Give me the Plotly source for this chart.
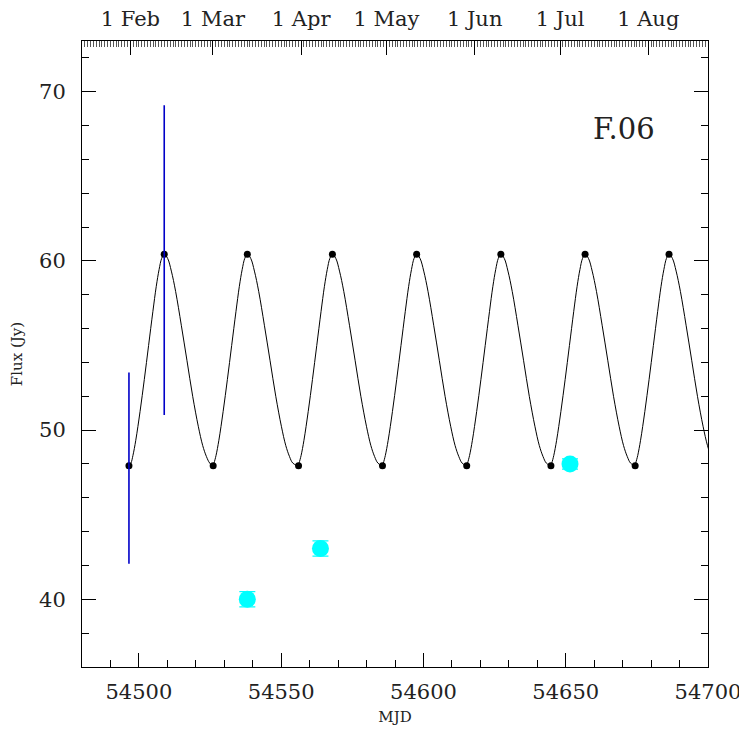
import plotly.graph_objects as go

# model extrema (black dots)
trough_mjd = [54496.5, 54526.1, 54556.1, 54585.6, 54615.2, 54644.8, 54674.4]
peak_mjd = [54508.9, 54538.1, 54568.0, 54597.6, 54627.2, 54656.8, 54686.3]
trough_flux = 47.9
peak_flux = 60.4

# shape of one model cycle around its peak (days from the peak)
rise_days = [-11.7, -11.0, -10.0, -8.5, -7.0, -5.5, -4.0, -2.8, -1.8, -0.9]
rise_flux = [48.05, 48.5, 49.4, 51.1, 53.0, 55.0, 57.0, 58.5, 59.5, 60.15]
fall_days = [1.2, 2.5, 4.0, 6.0, 8.0, 10.0, 12.0, 13.5, 14.8, 16.0]
fall_flux = [60.15, 59.4, 58.2, 56.2, 54.1, 52.0, 50.2, 49.1, 48.45, 48.05]

# measurements
vlba_mjd = [54496.5, 54508.9]
vlba_flux = [47.75, 60.05]
vlba_err = [5.65, 9.15]

obs_mjd = [54538.1, 54563.8, 54651.5]
obs_flux = [40.0, 43.0, 48.0]
obs_err = [0.45, 0.45, 0.3]

# top axis: first of each month (2008) in MJD
month_mjd = [54497, 54526, 54557, 54587, 54618, 54648, 54679]
month_lbl = ["1 Feb", "1 Mar", "1 Apr", "1 May", "1 Jun", "1 Jul", "1 Aug"]

# assemble the model curve from the extrema and the digitised cycle shape
curve_x, curve_y = [], []
for t, p in zip(trough_mjd, peak_mjd):
    curve_x.append(t)
    curve_y.append(trough_flux)
    curve_x += [p + d for d in rise_days if p + d > t]
    curve_y += [f for d, f in zip(rise_days, rise_flux) if p + d > t]
    curve_x.append(p)
    curve_y.append(peak_flux)
    curve_x += [p + d for d in fall_days]
    curve_y += fall_flux

FONT = "DejaVu Serif"

fig = go.Figure()

fig.add_trace(go.Scatter(
    x=curve_x, y=curve_y, mode="lines",
    line=dict(color="black", width=1, shape="spline", smoothing=1, simplify=False),
    hoverinfo="skip",
))
fig.add_trace(go.Scatter(
    x=trough_mjd + peak_mjd, y=[trough_flux] * len(trough_mjd) + [peak_flux] * len(peak_mjd),
    mode="markers", marker=dict(color="black", size=7),
))
fig.add_trace(go.Scatter(
    x=vlba_mjd, y=vlba_flux, mode="markers", marker=dict(size=0.1, color="rgba(0,0,0,0)"),
    error_y=dict(type="data", array=vlba_err, color="#0000c8", thickness=1.6, width=0),
))
fig.add_trace(go.Scatter(
    x=obs_mjd, y=obs_flux, mode="markers", marker=dict(color="cyan", size=17),
    error_y=dict(type="data", array=obs_err, color="cyan", thickness=1.2, width=8),
))
# dummy trace so the date axis on top is drawn
fig.add_trace(go.Scatter(
    x=[54480, 54700], y=[50, 50], xaxis="x2", mode="markers",
    marker=dict(opacity=0), hoverinfo="skip",
))

fig.add_annotation(
    x=54670.5, y=67.8, text="F.06", showarrow=False, xanchor="center",
    font=dict(family=FONT, size=29, color="#222"),
)

# page body adds 8px, so the figure is 739 wide/high
fig.update_layout(
    width=739, height=739,
    margin=dict(l=74, r=39, t=33, b=80),
    plot_bgcolor="white", paper_bgcolor="white",
    showlegend=False,
    font=dict(family=FONT, color="#222"),
    xaxis=dict(
        range=[54480, 54700], showgrid=False, zeroline=False, automargin=False,
        showline=True, linecolor="black", linewidth=1,
        ticks="inside", ticklen=14, tickcolor="black",
        tickmode="linear", tick0=54500, dtick=50, tickformat="d",
        minor=dict(dtick=10, tick0=54480, ticks="inside", ticklen=7, tickcolor="black", showgrid=False),
        tickfont=dict(size=21), ticklabelstandoff=6,
        title=dict(text="MJD", font=dict(size=15), standoff=8),
    ),
    xaxis2=dict(
        range=[54480, 54700], overlaying="x", side="top", showgrid=False, zeroline=False,
        automargin=False,
        showline=True, linecolor="black", linewidth=1,
        ticks="inside", ticklen=14, tickcolor="black",
        tickmode="array", tickvals=month_mjd, ticktext=month_lbl,
        minor=dict(tickmode="linear", tick0=54480, dtick=1, ticks="inside", ticklen=6,
                   tickcolor="#555", showgrid=False),
        tickfont=dict(size=21), ticklabelstandoff=6,
    ),
    yaxis=dict(
        range=[36, 73], showgrid=False, zeroline=False, automargin=False,
        showline=True, linecolor="black", linewidth=1, mirror="ticks",
        ticks="inside", ticklen=14, tickcolor="black",
        tickmode="linear", tick0=40, dtick=10,
        minor=dict(dtick=2, ticks="inside", ticklen=7, tickcolor="black", showgrid=False),
        tickfont=dict(size=21), ticklabelstandoff=11,
        title=dict(text="Flux (Jy)", font=dict(size=15), standoff=14),
    ),
)

fig.write_html("out.html")
